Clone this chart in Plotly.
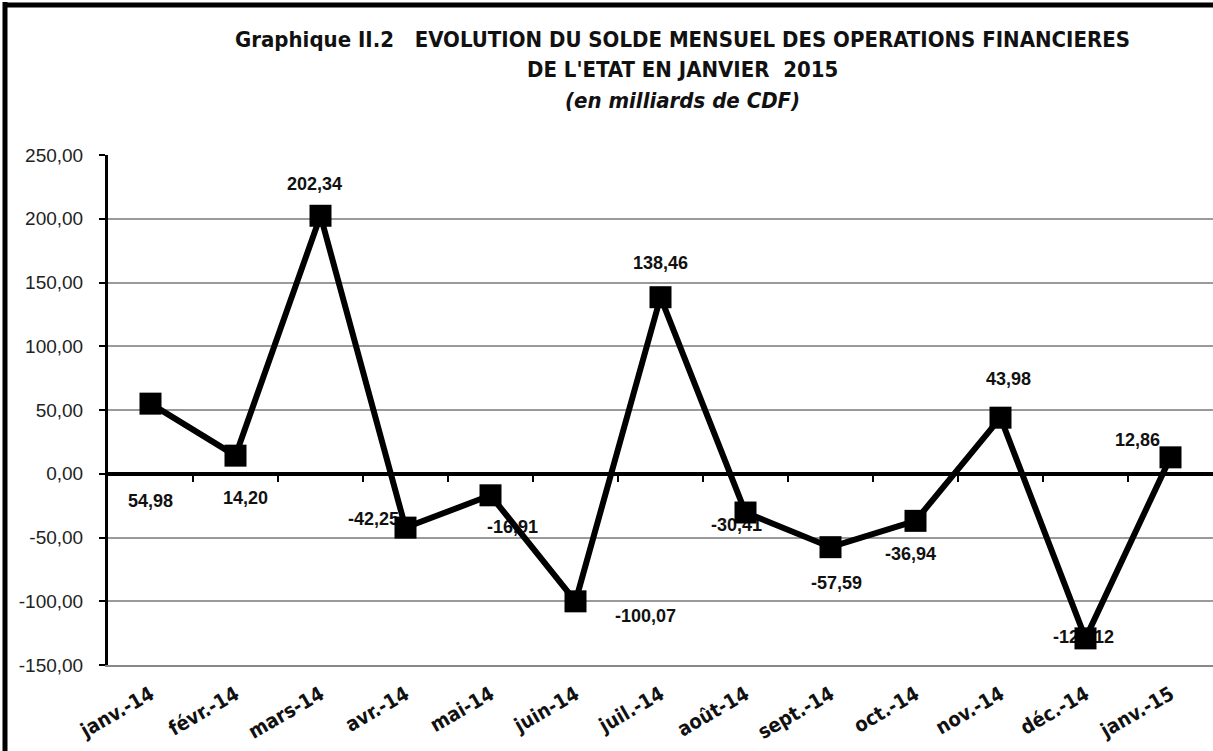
import plotly.graph_objects as go

categories = ["janv.-14", "févr.-14", "mars-14", "avr.-14", "mai-14", "juin-14", "juil.-14",
              "août-14", "sept.-14", "oct.-14", "nov.-14", "déc.-14", "janv.-15"]
values = [54.98, 14.20, 202.34, -42.25, -16.91, -100.07, 138.46,
          -30.41, -57.59, -36.94, 43.98, -129.12, 12.86]
y_ticks = [-150, -100, -50, 0, 50, 100, 150, 200, 250]

# label offsets in pixels (dx right, dy down) relative to each point
label_offsets = [(0, 99), (10, 44), (-6, -30), (-32, -7), (22, 33), (70, 16), (0, -33),
                 (-9, 14), (6, 37), (-5, 35), (8, -37), (-2, 0), (-33, -16)]

W, H = 1213, 751
L, R, T, B = 108, 0, 155, 86
plot_w = W - L - R
plot_h = H - T - B
y_min, y_max = -150, 250
px_per_x = plot_w / 13.0
px_per_y = plot_h / (y_max - y_min)


def fr(v):
    return f"{v:.2f}".replace(".", ",")


xs = list(range(len(categories)))
lab_x = [i + dx / px_per_x for i, (dx, dy) in zip(xs, label_offsets)]
lab_y = [v - dy / px_per_y for v, (dx, dy) in zip(values, label_offsets)]
lab_t = [fr(v) for v in values]

COND = "DejaVu Sans Condensed, Liberation Sans, Arial"

fig = go.Figure()
# data labels (drawn beneath the line, like the original)
fig.add_trace(go.Scatter(
    x=lab_x, y=lab_y, text=lab_t, mode="text", textposition="middle center",
    textfont=dict(family="Liberation Sans, Arial", size=18, color="#111111", weight="bold"),
    hoverinfo="skip", showlegend=False, cliponaxis=False))
fig.add_trace(go.Scatter(
    x=xs, y=values, mode="lines+markers",
    line=dict(color="black", width=6),
    marker=dict(symbol="square", size=22, color="black"),
    showlegend=False, cliponaxis=False))
# helper trace for the axis crossing at zero
fig.add_trace(go.Scatter(x=xs, y=values, mode="none", xaxis="x2", hoverinfo="skip", showlegend=False))

fig.update_layout(
    width=W, height=H,
    margin=dict(l=L, r=R, t=T, b=B),
    paper_bgcolor="white", plot_bgcolor="white",
    xaxis=dict(
        range=[-0.5, 12.5], tickmode="array", tickvals=xs, ticktext=categories,
        tickangle=-30, tickfont=dict(family=COND, size=20, color="#111111", weight="bold"),
        ticklabelstandoff=8,
        showline=True, linecolor="#888888", linewidth=2, showgrid=False, zeroline=False,
        ticks="", fixedrange=True),
    xaxis2=dict(
        range=[-0.5, 12.5], overlaying="x", anchor="free",
        position=(0 - y_min) / (y_max - y_min),
        tickmode="array", tickvals=[i + 0.5 for i in range(12)],
        showticklabels=False, ticks="outside", ticklen=6, tickwidth=2, tickcolor="black",
        showline=True, linecolor="black", linewidth=3, showgrid=False, zeroline=False),
    yaxis=dict(
        range=[y_min, y_max], tickmode="array", tickvals=y_ticks,
        ticktext=[fr(v) for v in y_ticks],
        tickfont=dict(family="Liberation Sans, Arial", size=19, color="#222222"),
        ticklabelstandoff=12,
        showline=True, linecolor="black", linewidth=3,
        ticks="outside", ticklen=6, tickwidth=2, tickcolor="black",
        showgrid=True, gridcolor="#9a9a9a", gridwidth=1.5,
        zeroline=True, zerolinecolor="black", zerolinewidth=3),
    annotations=[
        dict(text="<b>Graphique II.2   EVOLUTION DU SOLDE MENSUEL DES OPERATIONS FINANCIERES</b>",
             xref="paper", yref="paper", x=(682 - L) / plot_w, y=(H - B - 40) / plot_h,
             showarrow=False, xanchor="center", yanchor="middle",
             font=dict(family=COND, size=22, color="#111111")),
        dict(text="<b>DE L'ETAT EN JANVIER  2015</b>",
             xref="paper", yref="paper", x=(682 - L) / plot_w, y=(H - B - 70) / plot_h,
             showarrow=False, xanchor="center", yanchor="middle",
             font=dict(family=COND, size=22, color="#111111")),
        dict(text="<b><i>(en milliards de CDF)</i></b>",
             xref="paper", yref="paper", x=(682 - L) / plot_w, y=(H - B - 101) / plot_h,
             showarrow=False, xanchor="center", yanchor="middle",
             font=dict(family=COND, size=22, color="#111111")),
    ],
    shapes=[
        dict(type="line", xref="paper", yref="paper",
             x0=(5 - L) / plot_w, x1=(5 - L) / plot_w, y0=(H - B - H) / plot_h, y1=(H - B - 2) / plot_h,
             line=dict(color="black", width=5)),
        dict(type="line", xref="paper", yref="paper",
             x0=(3 - L) / plot_w, x1=(W - L) / plot_w, y0=(H - B - 5) / plot_h, y1=(H - B - 5) / plot_h,
             line=dict(color="black", width=5)),
    ],
)

fig.write_html("out.html", config={"displayModeBar": False},
               post_script="document.body.style.margin='0';document.body.style.overflow='hidden';")
